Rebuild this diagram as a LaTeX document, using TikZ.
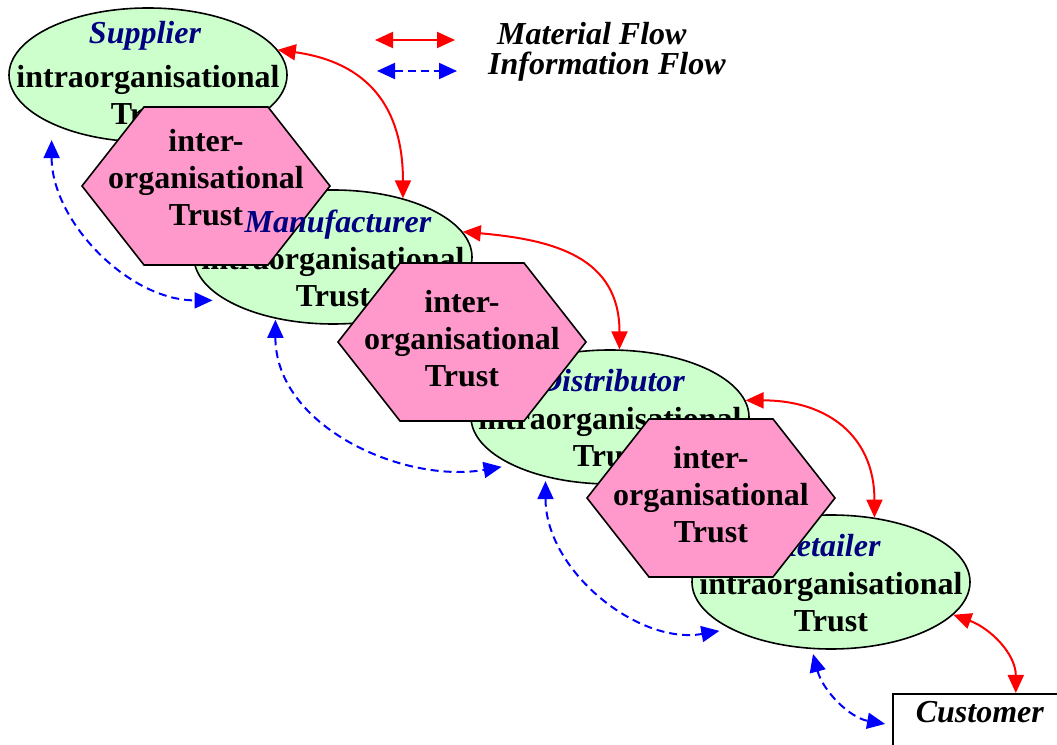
\documentclass[tikz,border=0pt]{standalone}
\usepackage{fontspec}
\setmainfont{Liberation Serif}
\usetikzlibrary{arrows.meta,shapes.geometric,calc}
\definecolor{orggreen}{HTML}{CCFFCC}
\definecolor{trustpink}{HTML}{FF99CC}
\definecolor{rolenavy}{HTML}{000080}
\tikzset{
  orgell/.style={ellipse,draw,line width=1.6pt,fill=orggreen,minimum width=278pt,minimum height=134pt,inner sep=0pt},
  bigtext/.style={font=\fontsize{32}{37}\selectfont\bfseries,align=center,inner sep=0pt},
  rolelabel/.style={font=\fontsize{32}{37}\selectfont\bfseries\itshape,text=rolenavy,anchor=base,inner sep=0pt},
  flowlabel/.style={font=\fontsize{32}{37}\selectfont\bfseries\itshape,anchor=base west,inner sep=0pt},
  trusthex/.style={draw,line width=1.6pt,fill=trustpink},
  custbox/.style={draw,line width=1.6pt,anchor=north west,font=\fontsize{32}{37}\selectfont\bfseries\itshape,
    text width=200pt,align=left,inner xsep=23pt,inner ysep=0pt,text height=29pt,text depth=51pt},
  matflow/.style={red,line width=2pt,>={Triangle[length=18pt,width=16pt]},<->},
  infoflow/.style={blue,line width=2pt,dash pattern=on 8pt off 5pt,>={Triangle[length=18pt,width=16pt]},<->}
}

\begin{document}
\begin{tikzpicture}[x=1pt,y=1pt]
  \useasboundingbox (0,0) rectangle (1057,744);
  \foreach \name/\cx/\cy in {S/148/669,M/333/487,D/610/327,R/831/162}{
    \node[orgell] (\name) at (\cx,\cy) {};
    \node[bigtext] (\name txt) at (\cx,\cy-20) {intraorganisational\\Trust};
  }
  \node[rolelabel] (supL) at ($(S.center)+(-3,31)$) {Supplier};
  \node[rolelabel] (disL) at ($(D.center)+(2,25)$) {Distributor};
  \node[rolelabel] (retL) at ($(R.center)+(-3,25)$) {Retailer};
  \foreach \name/\cx/\cy/\dy in {H1/206/558/8,H2/462/402/3,H3/711/246/3}{
    \filldraw[trusthex] (\cx-124,\cy) -- ++(62,79) -- ++(124,0) -- ++(62,-79) -- ++(-62,-79) -- ++(-124,0) -- cycle;
    \node[bigtext] (\name) at (\cx,\cy+\dy) {inter-\\organisational\\Trust};
  }
  \node[rolelabel] (manL) at ($(M.center)+(5,24)$) {Manufacturer};
  \node[custbox] (C) at (892,51) {Customer};

  \draw[matflow] (S.11) to[out=-8,in=90,looseness=1.2] (M.40);
  \draw[matflow] (M.11) to[out=-5,in=90,looseness=1.2] (D.82);
  \draw[matflow] (D.7) to[out=0,in=90,looseness=1.2] (R.56);
  \draw[matflow] (R.-15) to[out=-20,in=90] (C.north);

  \draw[infoflow,shorten <=16pt,shorten >=13pt] (S.207) to[out=-90,in=180] (M.202);
  \draw[infoflow,shorten <=1pt,shorten >=10pt] (M.227) to[out=-90,in=190] (D.206);
  \draw[infoflow,shorten <=4pt,shorten >=11pt] (D.223) to[out=-90,in=190] (R.205);
  \draw[infoflow,shorten <=5pt,shorten >=7pt] (R.254) to[out=-75,in=170] (C.176);

  \coordinate (matA) at (375,704);
  \coordinate (matB) at (455,704);
  \coordinate (infA) at (377,673);
  \coordinate (infB) at (457,673);
  \draw[matflow] (matA) -- (matB);
  \draw[infoflow] (infA) -- (infB);
  \node[flowlabel] (matL) at (497,699) {Material Flow};
  \node[flowlabel] (infL) at (488,669) {Information Flow};
\end{tikzpicture}
\end{document}
